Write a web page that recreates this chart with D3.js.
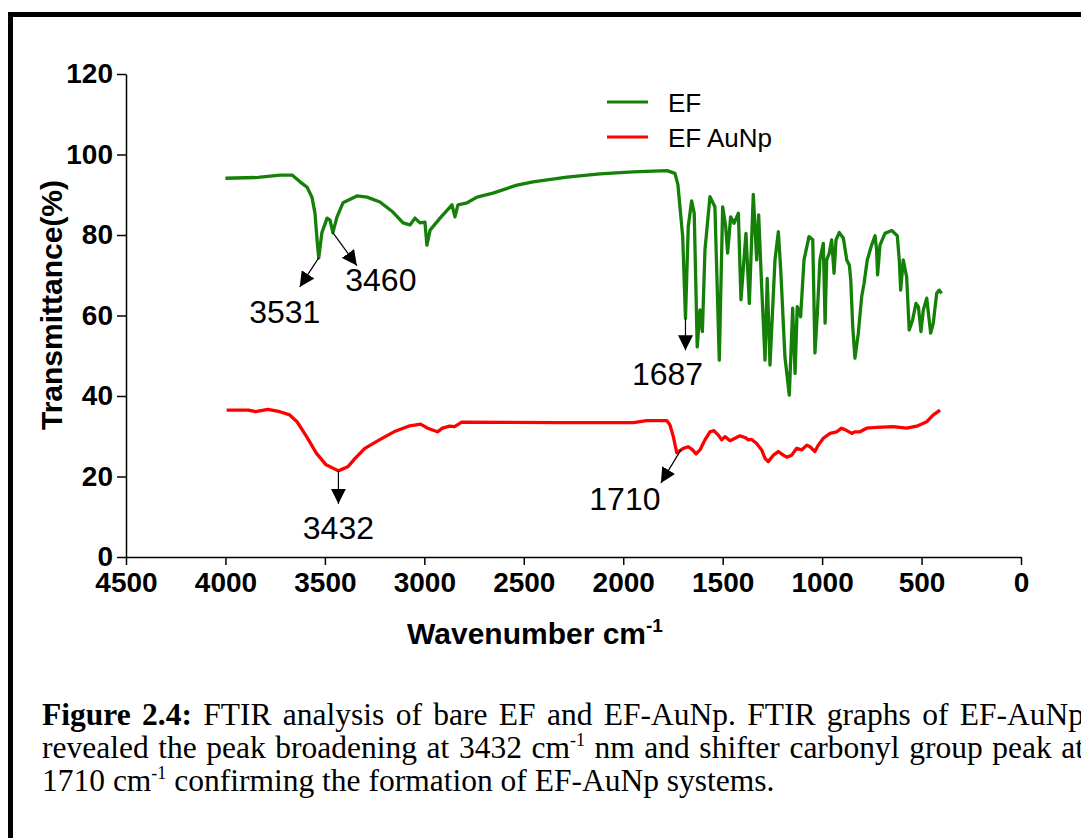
<!DOCTYPE html>
<html>
<head>
<meta charset="UTF-8">
<title>FTIR EF / EF AuNp</title>
<script src="https://cdn.jsdelivr.net/npm/d3@7"></script>
<style>
body { margin:0; background:#fff; }
.axis path, .axis line { stroke:#000; stroke-width:1.5px; }
.axis text { font-family:"Liberation Sans", Arial, sans-serif; font-weight:bold; font-size:28px; fill:#000; }
.title { font-family:"Liberation Sans", Arial, sans-serif; font-weight:bold; font-size:30px; fill:#000; }
.spec { fill:none; stroke-width:3.3px; stroke-linejoin:round; }
.leg { font-family:"Liberation Sans", Arial, sans-serif; font-size:26px; fill:#000; }
.note { font-family:"Liberation Sans", Arial, sans-serif; font-size:32px; fill:#000; }
.cap { font-family:"Liberation Serif", "Times New Roman", serif; font-size:31.5px; fill:#000; }
</style>
</head>
<body>
<svg id="fig" width="1081" height="838"></svg>
<script>
// spectra: [wavenumber cm-1, transmittance %]
var ef = [[4000,94.1],[3836,94.3],[3726,94.9],[3665,94.9],[3625,93.2],[3590,91.9],[3565,89.4],[3550,85.5],
  [3538,78.0],[3531,74.3],[3515,80.6],[3489,84.2],[3474,83.7],[3460,80.6],[3439,84.5],[3409,88.0],[3339,89.7],
  [3288,89.4],[3223,88.2],[3158,85.7],[3107,83.0],[3072,82.5],[3047,84.2],[3022,83.0],[2997,83.2],[2987,77.5],
  [2971,81.2],[2921,84.2],[2861,87.5],[2846,84.5],[2831,87.5],[2785,88.0],[2735,89.4],[2655,90.4],[2534,92.4],
  [2454,93.2],[2283,94.4],[2117,95.2],[1951,95.7],[1780,96.0],[1740,95.3],[1725,92.5],[1701,79.6],[1687,59.3],
  [1673,82.1],[1656,88.5],[1643,85.4],[1628,52.2],[1614,61.4],[1602,56.0],[1589,76.3],[1564,89.5],[1539,87.0],
  [1517,48.9],[1500,87.0],[1485,82.1],[1475,75.5],[1460,84.5],[1443,82.9],[1421,85.4],[1408,63.9],[1383,80.4],
  [1366,63.0],[1346,90.1],[1329,73.8],[1319,85.0],[1304,67.2],[1287,48.9],[1276,69.2],[1262,47.7],[1237,73.8],
  [1220,80.8],[1208,71.3],[1187,49.8],[1165,40.2],[1148,61.8],[1136,45.6],[1125,62.2],[1108,59.7],[1091,73.8],
  [1066,79.6],[1047,78.8],[1036,50.7],[1024,60.5],[1011,73.8],[994,77.9],[985,58.1],[977,73.8],[964,75.5],
  [952,78.8],[940,70.5],[930,78.8],[914,80.6],[893,79.2],[876,73.8],[863,72.5],[856,68.8],[846,57.2],[835,49.4],
  [818,55.6],[801,64.7],[789,68.0],[773,73.8],[751,77.5],[734,79.8],[726,76.3],[721,70.1],[709,77.5],[684,80.4],
  [650,81.1],[622,79.8],[612,73.8],[605,66.3],[592,73.8],[575,69.6],[562,56.4],[545,58.9],[528,63.0],[516,62.2],
  [503,56.0],[491,61.4],[474,64.3],[454,55.6],[441,58.1],[424,65.5],[411,66.3],[399,65.5]];

var efAuNp = [[3994,36.5],[3884,36.5],[3848,36.1],[3787,36.7],[3726,36.1],[3677,35.3],[3640,33.6],[3592,29.9],
  [3543,25.8],[3494,22.9],[3432,21.4],[3385,22.4],[3348,24.5],[3299,27.0],[3226,29.1],[3153,31.1],[3080,32.5],
  [3019,33.0],[2983,32.0],[2934,31.1],[2909,32.0],[2873,32.5],[2848,32.4],[2812,33.5],[2318,33.4],[1949,33.4],
  [1882,33.9],[1781,33.9],[1765,32.8],[1748,29.9],[1731,25.9],[1698,27.0],[1673,27.4],[1651,26.6],[1634,25.6],
  [1614,26.6],[1589,29.1],[1564,31.1],[1544,31.4],[1522,30.3],[1505,29.1],[1488,29.9],[1463,28.9],[1438,29.5],
  [1413,30.1],[1388,29.7],[1371,29.1],[1354,29.2],[1329,28.2],[1304,26.6],[1287,24.5],[1271,23.7],[1245,25.3],
  [1220,26.2],[1195,25.3],[1178,24.8],[1153,25.3],[1128,27.0],[1103,26.6],[1077,27.8],[1061,27.4],[1036,26.2],
  [1019,27.8],[994,29.5],[960,30.7],[927,31.1],[902,32.0],[876,31.4],[851,30.7],[835,31.1],[810,31.1],[776,32.0],
  [726,32.2],[642,32.4],[575,32.0],[524,32.5],[474,33.6],[441,35.3],[407,36.5]];

var xTicks = [4500,4000,3500,3000,2500,2000,1500,1000,500,0];
var yTicks = [0,20,40,60,80,100,120];
var seriesNames = ["EF", "EF AuNp"];

// labelled peaks: which series, wavenumber
var peakSeries = ["ef", "ef", "ef", "efAuNp", "efAuNp"];
var peakWn = [3531, 3460, 1687, 3432, 1710];

var svg = d3.select("#fig");

// frame around the figure (runs off the right and bottom edge)
svg.append("rect").attr("x", 10.5).attr("y", 14.5).attr("width", 1200).attr("height", 1000)
   .attr("fill", "none").attr("stroke", "#000").attr("stroke-width", 5);

var x = d3.scaleLinear().domain([4500, 0]).range([126, 1021]);
var y = d3.scaleLinear().domain([0, 120]).range([557, 74]);

svg.append("g").attr("class", "axis").attr("transform", "translate(126,0)")
   .call(d3.axisLeft(y).tickValues(yTicks).tickSize(9).tickPadding(4).tickSizeOuter(0));
svg.append("g").attr("class", "axis").attr("transform", "translate(0,557)")
   .call(d3.axisBottom(x).tickValues(xTicks).tickFormat(d3.format("d"))
     .tickSize(8).tickPadding(7).tickSizeOuter(0));

svg.append("text").attr("class", "title").attr("transform", "translate(62,305) rotate(-90)")
   .attr("text-anchor", "middle").text("Transmittance(%)");
var xt = svg.append("text").attr("class", "title").attr("x", 535).attr("y", 644).attr("text-anchor", "middle");
xt.append("tspan").text("Wavenumber cm");
xt.append("tspan").attr("dy", -12).style("font-size", "19px").text("-1");

var line = d3.line().x(function(d) { return x(d[0]); }).y(function(d) { return y(d[1]); });
var colors = {ef: "#158008", efAuNp: "#ff0000"};
var data = {ef: ef, efAuNp: efAuNp};

svg.append("path").attr("class", "spec").attr("d", line(ef)).attr("stroke", colors.ef);
svg.append("path").attr("class", "spec").attr("d", line(efAuNp)).attr("stroke", colors.efAuNp);

// legend
["ef", "efAuNp"].forEach(function(k, i) {
  var ly = 102 + i * 35;
  svg.append("line").attr("x1", 607).attr("x2", 648).attr("y1", ly).attr("y2", ly)
     .attr("stroke", colors[k]).attr("stroke-width", 3);
  svg.append("text").attr("class", "leg").attr("x", 668).attr("y", ly + 10).text(seriesNames[i]);
});

// arrow annotations
svg.append("defs").append("marker").attr("id", "head").attr("viewBox", "0 0 10 10")
   .attr("refX", 10).attr("refY", 5).attr("markerWidth", 15).attr("markerHeight", 15)
   .attr("markerUnits", "userSpaceOnUse").attr("orient", "auto")
   .append("path").attr("d", "M0,0L10,5L0,10z").attr("fill", "#000");

function valueAt(arr, wn) {
  for (var i = 0; i < arr.length - 1; i++) {
    if (arr[i][0] >= wn && arr[i + 1][0] <= wn) {
      var t = (arr[i][0] - wn) / (arr[i][0] - arr[i + 1][0]);
      return arr[i][1] + t * (arr[i + 1][1] - arr[i][1]);
    }
  }
  return arr[arr.length - 1][1];
}
// arrow tip and label offsets from the peak, in pixels
var arrowTip = [[-19, 29], [24, 33], [0, 32], [0, 33], [-20, 33]];
var labelAt = [[-34, 65], [48, 58], [-18, 67], [0, 68], [-56, 60]];

peakWn.forEach(function(wn, i) {
  var px = x(wn), py = y(valueAt(data[peakSeries[i]], wn));
  svg.append("line").attr("x1", px).attr("y1", py)
     .attr("x2", px + arrowTip[i][0]).attr("y2", py + arrowTip[i][1])
     .attr("stroke", "#000").attr("stroke-width", 1.2).attr("marker-end", "url(#head)");
  svg.append("text").attr("class", "note").attr("text-anchor", "middle")
     .attr("x", px + labelAt[i][0]).attr("y", py + labelAt[i][1]).text(String(wn));
});

// caption
var capLines = [
  [["Figure 2.4:", "b"], [" FTIR analysis of bare EF and EF-AuNp. FTIR graphs of EF-AuNp", ""]],
  [["revealed the peak broadening at 3432 cm", ""], ["-1", "sup"], [" nm and shifter carbonyl group peak at", ""]],
  [["1710 cm", ""], ["-1", "sup"], [" confirming the formation of EF-AuNp systems.", ""]]
];
var justify = [true, true, false];
capLines.forEach(function(parts, i) {
  var t = svg.append("text").attr("class", "cap").attr("x", 42).attr("y", 725 + i * 33);
  var shift = 0;
  parts.forEach(function(p) {
    var s = t.append("tspan").text(p[0]);
    if (p[1] === "b") s.style("font-weight", "bold");
    if (p[1] === "sup") { s.style("font-size", "18px").attr("dy", -12); shift = 12; }
    else if (shift) { s.attr("dy", shift); shift = 0; }
  });
  if (justify[i]) {
    var w = t.node().getComputedTextLength();
    var spaces = parts.map(function(p) { return p[0]; }).join("").split(" ").length - 1;
    t.style("word-spacing", ((1042 - w) / spaces) + "px");
  }
});
</script>
</body>
</html>
